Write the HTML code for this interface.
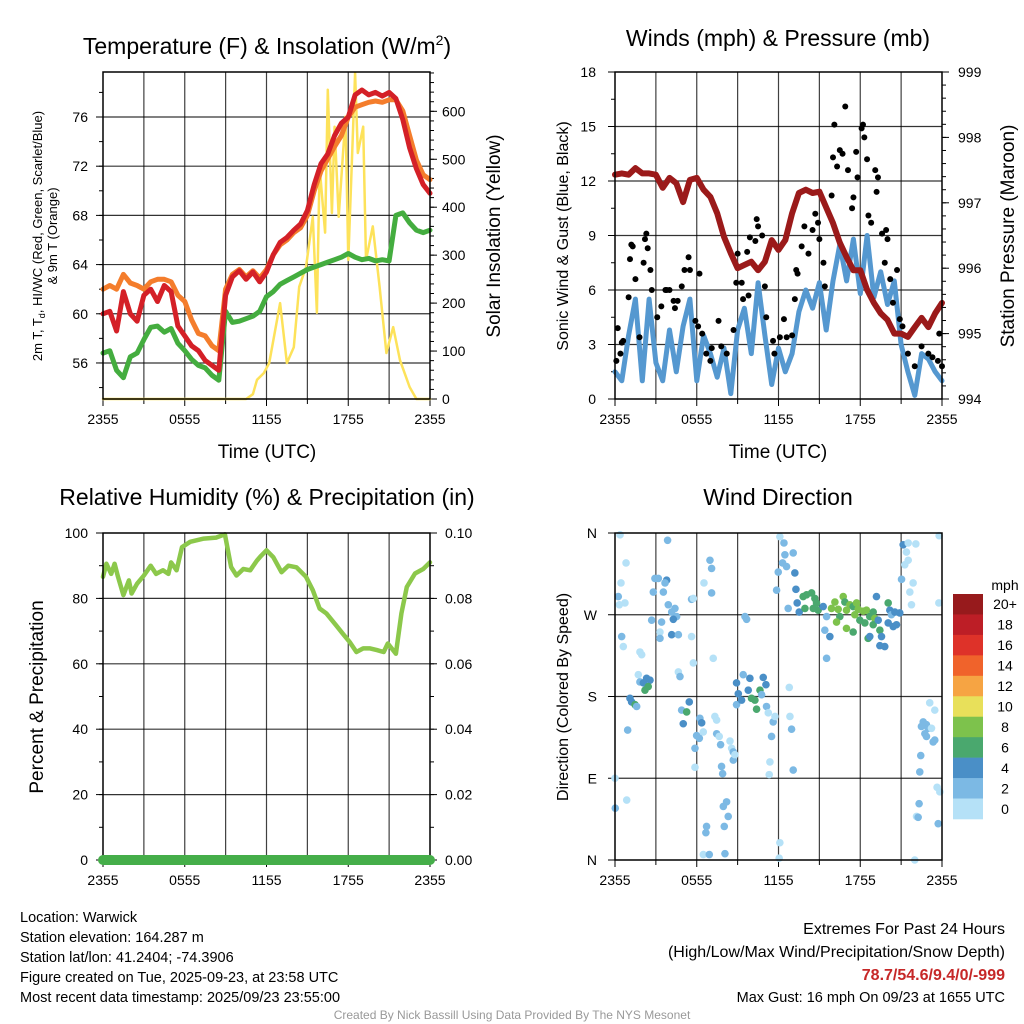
<!DOCTYPE html>
<html><head><meta charset="utf-8"><style>
html,body{margin:0;padding:0;background:#fff;}
svg{display:block;font-family:"Liberation Sans",Arial,sans-serif;}
</style></head><body>
<svg id="chart" width="1024" height="1024" viewBox="0 0 1024 1024" xmlns="http://www.w3.org/2000/svg">
<rect width="1024" height="1024" fill="#fff"/>
<g id="layer"></g>
<text x="267" y="54" font-size="23" text-anchor="middle">Temperature (F) &amp; Insolation (W/m<tspan font-size="14" dy="-9">2</tspan><tspan dy="9">)</tspan></text>
<text x="778" y="46" font-size="23" text-anchor="middle">Winds (mph) &amp; Pressure (mb)</text>
<text x="267" y="505" font-size="23" text-anchor="middle">Relative Humidity (%) &amp; Precipitation (in)</text>
<text x="778" y="505" font-size="23" text-anchor="middle">Wind Direction</text>
<text x="267" y="458" font-size="19" text-anchor="middle">Time (UTC)</text>
<text x="778" y="458" font-size="19" text-anchor="middle">Time (UTC)</text>
<text transform="translate(42,236) rotate(-90)" font-size="13" text-anchor="middle">2m T, T<tspan font-size="9" dy="3">d</tspan><tspan dy="-3">, HI/WC (Red, Green, Scarlet/Blue)</tspan></text>
<text transform="translate(57,236) rotate(-90)" font-size="13" text-anchor="middle">&amp; 9m T (Orange)</text>
<text transform="translate(500,236) rotate(-90)" font-size="19" text-anchor="middle">Solar Insolation (Yellow)</text>
<text transform="translate(568,236) rotate(-90)" font-size="16" text-anchor="middle">Sonic Wind &amp; Gust (Blue, Black)</text>
<text transform="translate(1014,236) rotate(-90)" font-size="19" text-anchor="middle">Station Pressure (Maroon)</text>
<text transform="translate(43,697) rotate(-90)" font-size="19" text-anchor="middle">Percent &amp; Precipitation</text>
<text transform="translate(568,697) rotate(-90)" font-size="16" text-anchor="middle">Direction (Colored By Speed)</text>
<g font-size="14.5">
<text x="20" y="922">Location: Warwick</text>
<text x="20" y="942">Station elevation: 164.287 m</text>
<text x="20" y="962">Station lat/lon: 41.2404; -74.3906</text>
<text x="20" y="982">Figure created on Tue, 2025-09-23, at 23:58 UTC</text>
<text x="20" y="1002">Most recent data timestamp: 2025/09/23 23:55:00</text>
</g>
<g text-anchor="end">
<text x="1005" y="934" font-size="16">Extremes For Past 24 Hours</text>
<text x="1005" y="957" font-size="16">(High/Low/Max Wind/Precipitation/Snow Depth)</text>
<text x="1005" y="980" font-size="16" font-weight="bold" fill="#c62828">78.7/54.6/9.4/0/-999</text>
<text x="1005" y="1002" font-size="14.5">Max Gust: 16 mph On 09/23 at 1655 UTC</text>
</g>
<text x="512" y="1019" font-size="12" fill="#999" text-anchor="middle">Created By Nick Bassill Using Data Provided By The NYS Mesonet</text>
</svg>
<script>
const halfHours = Array.from({length:49},(_, i)=>i/2);
const tempRed = [60.0,60.2,58.6,61.8,60.0,59.4,61.5,62.0,61.0,62.3,61.8,59.0,58.2,57.4,57.0,56.2,55.8,55.4,61.5,63.0,63.5,62.8,63.4,62.6,63.4,64.8,65.8,66.2,66.8,67.3,68.4,70.5,72.2,73.0,74.5,75.5,76.0,77.8,78.2,77.8,78.0,77.7,78.0,77.5,75.8,73.5,71.8,70.5,69.8];
const tempOrange = [62.0,62.3,62.0,63.2,62.5,62.3,62.0,62.6,62.8,62.8,62.6,61.5,61.0,59.5,58.4,58.2,57.4,57.0,62.0,63.2,63.6,63.0,63.5,62.9,63.6,64.8,65.6,66.0,66.6,67.0,68.0,70.0,71.6,72.6,73.6,74.5,76.0,76.8,77.0,77.2,77.3,77.2,77.4,77.4,76.5,74.5,72.5,71.3,70.9];
const dewGreen = [56.8,57.0,55.4,54.8,56.5,56.8,57.9,58.9,59.0,58.5,58.8,57.6,57.0,56.3,55.8,55.6,55.0,54.6,60.2,59.3,59.4,59.6,59.8,60.2,61.4,61.8,62.4,62.7,63.0,63.3,63.6,63.8,64.0,64.2,64.4,64.6,64.9,64.6,64.4,64.5,64.3,64.4,64.3,68.0,68.2,67.4,66.8,66.6,66.8];
const solarTimes = [0,10.5,11.0,11.3,11.8,12.2,13.0,13.5,14.0,14.4,14.9,15.4,15.7,15.9,16.3,16.5,16.8,17.0,17.3,17.8,18.0,18.5,18.7,19.1,19.3,19.8,20.3,20.8,21.3,21.8,22.5,23.0,24];
const solarVals = [0,0,10,40,54,75,200,75,108,234,275,380,180,484,347,645,388,568,380,589,290,680,513,568,290,360,234,96,150,81,25,0,0];
const windSpeed = [1.5,1.0,3.5,5.5,1.0,5.5,2.0,1.0,3.8,1.5,4.0,5.5,1.0,3.5,2.5,1.2,2.8,0.3,3.8,5.0,2.5,6.4,3.5,0.8,2.8,1.5,2.5,4.8,6.0,5.0,6.4,3.8,6.5,8.5,6.5,8.8,5.8,9.0,5.6,7.0,5.2,6.5,3.0,1.5,0.2,2.5,2.2,1.5,1.0];
const pressure = [997.43,997.45,997.43,997.53,997.45,997.45,997.43,997.23,997.38,997.30,997.01,997.35,997.38,997.20,997.09,996.84,996.48,996.23,996.00,996.05,996.10,995.97,996.10,996.43,996.28,996.43,996.84,997.15,997.20,997.15,997.17,996.93,996.69,996.39,996.17,995.97,995.97,995.67,995.47,995.31,995.21,995.00,995.00,994.95,995.10,995.24,995.10,995.31,995.47];
const gustTimes = [0.1,0.2,0.5,0.4,0.6,1.0,1.1,1.2,1.3,1.5,1.8,2.1,2.2,2.3,2.4,2.6,2.7,3.1,3.4,3.7,3.8,4.0,4.3,4.4,4.6,4.9,5.1,5.4,5.5,5.9,6.1,6.2,6.4,6.7,7.0,7.1,7.6,7.8,8.2,8.7,8.9,9.0,9.3,9.4,9.7,9.8,9.9,10.3,10.4,10.5,10.8,11.0,11.1,11.6,11.7,12.1,12.4,12.6,13.0,13.2,13.3,13.4,13.7,13.9,14.2,14.5,14.7,14.9,15.0,15.3,15.4,15.9,16.0,16.1,16.3,16.5,16.7,16.9,17.1,17.4,17.5,17.7,17.8,18.1,18.2,18.3,18.5,18.6,18.8,19.1,19.2,19.3,19.6,19.8,19.9,20.0,20.2,20.4,20.7,20.9,21.1,21.5,22.0,22.5,23.0,23.3,23.7,23.8,24.0];
const gustVals = [2.1,3.9,3.1,2.5,3.2,5.6,7.7,8.5,8.4,6.6,3.4,7.5,8.8,9.1,8.3,7.1,6.0,4.5,5.1,6.0,6.0,6.0,5.4,5.0,5.4,6.2,7.1,7.8,7.1,4.3,4.0,6.9,3.6,2.5,2.1,2.8,4.3,2.9,2.5,3.8,6.4,8.0,6.4,5.5,8.1,5.7,8.9,8.7,9.9,9.5,9.0,6.2,4.5,3.2,2.5,3.4,4.4,3.4,3.5,5.5,7.1,6.9,8.4,9.5,8.0,9.3,10.2,9.7,8.8,7.5,6.2,11.2,13.3,15.1,12.8,13.7,13.5,16.1,12.6,10.5,11.1,13.6,12.2,14.9,15.1,14.4,13.2,10.1,9.7,12.6,11.4,12.2,9.1,7.5,9.3,8.8,6.6,5.3,7.1,4.4,4.0,2.5,1.8,2.9,2.5,2.3,2.1,3.6,1.8];
const rhTimes = [0,0.25,0.6,0.85,1.1,1.5,1.9,2.1,2.5,3.0,3.5,3.9,4.4,4.8,5.0,5.4,5.8,6.4,7.4,8.3,8.95,9.4,9.8,10.3,10.8,11.3,11.6,12.0,12.5,13.1,13.6,14.2,14.9,15.4,15.9,16.4,17.1,17.6,18.1,18.6,19.1,19.6,20.1,20.6,20.9,21.5,21.9,22.3,22.9,23.5,24.0];
const rhVals = [86.6,90.6,87.5,90.6,86.6,81.0,85.5,81.5,84.5,87.0,90.0,87.5,88.6,87.5,91.0,88.6,95.7,97.3,98.3,98.6,99.6,89.6,87.0,89.0,88.6,91.6,93.0,94.7,92.6,88.0,90.0,89.5,86.6,82.5,76.9,75.4,71.8,69.2,66.7,63.6,64.7,64.7,64.2,63.6,66.2,63.1,75.4,83.5,87.6,89.0,91.0];
const precipTimes = [0,24];
const precipVals = [0,0];
const dirTimes = [
0.37,0.24,0.32,0.73,0.81,0.44,0.49,0.61,1.83,1.96,
1.71,1.83,2.08,2.32,2.57,2.20,2.44,1.10,1.22,1.47,
1.59,0.93,0,0.02,0.86,2.93,3.18,3.79,3.67,2.81,
3.55,3.91,4.40,4.16,4.52,4.28,3.42,2.69,3.30,4.16,
4.65,3.30,5.62,5.62,5.75,5.75,4.65,4.77,3.86,5.45,
4.89,5.01,5.26,6.23,6.36,6.48,5.99,6.19,5.87,5.87,
6.97,7.09,7.09,6.53,7.21,7.33,7.46,7.46,7.65,7.75,
8.44,8.56,8.68,8.68,8.80,7.82,7.90,7.95,8.19,8.31,
6.72,6.67,6.48,6.92,8.07,8.02,9.54,9.66,8.92,9.05,
8.92,9.29,9.41,9.90,9.78,10.02,10.27,10.39,10.64,10.88,
11.08,10.76,11.12,11.25,11.61,11.74,11.49,11.37,11.32,12.79,
12.84,12.96,13.08,12.10,12.05,12.10,12.40,12.47,12.30,12.59,
11.98,11.86,13.08,13.20,13.28,13.37,13.52,12.71,13.81,14.06,
14.43,14.67,14.79,14.91,14.55,13.94,15.28,15.53,15.40,15.77,
15.53,15.89,16.14,16.38,16.50,16.75,16.87,16.99,17.24,17.48,
17.60,17.73,17.85,16.99,16.26,17.48,17.97,18.22,18.34,18.46,
18.58,18.70,18.95,19.07,18.95,19.19,19.32,19.44,19.56,19.80,
19.44,20.05,20.17,20.29,20.42,20.66,20.90,20.54,20.05,18.70,
21.15,21.03,21.39,21.52,22.08,21.52,21.27,21.88,21.64,21.76,
23.79,23.77,23.10,23.47,22.62,22.86,22.49,22.74,22.98,23.23,
22.86,23.35,23.47,22.44,22.37,22.32,22.13,22.25,23.64,23.84,
23.72,22.00];
const dirDeg = [
358,290,281,283,327,305,246,235,229,226,
204,196,195,200,198,187,191,178,174,171,
169,143,90,57,66,310,310,308,305,295,
295,281,277,273,268,265,262,264,251,248,
248,244,246,287,288,217,207,202,352,174,
165,150,163,156,151,141,137,134,123,102,
330,321,294,305,222,158,154,139,136,127,
131,123,119,110,116,103,95,59,64,48,
37,30,6,6,7,37,268,265,195,183,
171,176,204,200,187,178,176,166,187,201,
193,182,169,162,152,158,136,108,94,190,
158,144,99,19,2,356,349,336,327,323,
317,297,338,316,298,283,273,277,290,292,
294,288,283,275,277,277,279,268,253,246,
222,277,284,276,268,290,284,275,281,279,
270,283,276,255,262,251,264,274,261,275,
244,268,273,266,259,290,264,253,246,235,
236,283,275,270,257,259,272,273,261,246,
347,309,339,349,348,330,325,305,295,281,
357,283,173,165,152,149,147,139,145,145,
136,130,132,115,97,62,48,47,80,75,
40,0];
const dirSpeed = [
1,3,1,1,1,1,3,1,1,1,
1,3,5,5,5,7,7,5,5,7,
3,3,1,3,1,3,3,5,3,3,
3,3,3,3,3,5,3,3,1,5,
3,3,1,3,1,1,1,3,3,5,
3,5,7,3,5,1,3,3,3,1,
3,3,3,1,1,1,1,3,1,3,
1,1,3,3,1,3,3,3,3,3,
3,3,1,3,3,3,3,3,5,5,
3,5,3,5,5,7,7,7,7,5,
5,3,3,1,3,1,3,1,1,1,
1,3,3,1,1,1,3,3,3,3,
3,3,3,5,5,5,5,3,7,7,
7,7,7,7,7,7,5,3,3,5,
3,9,9,9,7,9,7,9,9,7,
9,9,9,9,9,7,7,9,7,9,
7,7,7,9,7,5,5,7,5,5,
5,7,5,3,5,5,5,5,5,5,
5,3,1,1,1,1,1,1,1,1,
1,1,1,1,3,3,3,3,3,1,
3,3,3,3,3,3,1,3,1,1,
3,1];
const speedColors = ['#b5e1f7','#7cb9e4','#4a8fc7','#4aa86e','#7dc24c','#e8e05a','#f6a443','#f0632b','#de3229','#bd1e26','#971a1c'];
const speedLabels = ['0','2','4','6','8','10','12','14','16','18','20+'];

const NS='http://www.w3.org/2000/svg';
const layer=document.getElementById('layer');
function mk(tag, attrs, parent){const e=document.createElementNS(NS,tag);for(const k in attrs)e.setAttribute(k,attrs[k]);(parent||layer).appendChild(e);return e;}
const W=327;
function xs(x0,h){return x0+h*W/24;}
function linScale(vmin,vmax,ytop,ybot){return v=>ybot-(v-vmin)/(vmax-vmin)*(ybot-ytop);}

function panelFrame(x0,y0,name){
  const g=mk('g',{});
  
  
  for(let h=3;h<24;h+=3){const l=mk('line',{x1:xs(x0,h),x2:xs(x0,h),y1:y0,y2:y0+W,stroke:'#000','stroke-width':1.2,'stroke-opacity':0.75},g);
    
    }
  const xl=['2355','0555','1155','1755','2355'];
  for(let h=0;h<=24;h+=3){mk('line',{x1:xs(x0,h),x2:xs(x0,h),y1:y0+W,y2:y0+W+(h%6==0?7:5),stroke:'#000','stroke-width':1},g);}
  for(let i=0;i<5;i++){const t=mk('text',{x:xs(x0,i*6),y:y0+W+25,'font-size':14,'text-anchor':'middle'},g);t.textContent=xl[i];
    
    }
  return g;
}
function hgrid(g,x0,y){const l=mk('line',{x1:x0,x2:x0+W,y1:y,y2:y,stroke:'#000','stroke-width':1.2,'stroke-opacity':0.8},g);
  
  }
function leftTicks(g,x0,scale,majors,minors,labels,lx){
  minors.forEach(v=>mk('line',{x1:x0,x2:x0-4,y1:scale(v),y2:scale(v),stroke:'#000'},g));
  majors.forEach((v,i)=>{mk('line',{x1:x0,x2:x0-7,y1:scale(v),y2:scale(v),stroke:'#000'},g);
    const t=mk('text',{x:lx,y:scale(v)+5,'font-size':14,'text-anchor':'end'},g);t.textContent=labels[i];
    
    });
}
function rightTicks(g,x1,scale,majors,minors,labels,lx){
  minors.forEach(v=>mk('line',{x1:x1,x2:x1+4,y1:scale(v),y2:scale(v),stroke:'#000'},g));
  majors.forEach((v,i)=>{mk('line',{x1:x1,x2:x1+7,y1:scale(v),y2:scale(v),stroke:'#000'},g);
    const t=mk('text',{x:lx,y:scale(v)+5,'font-size':14,'text-anchor':'start'},g);t.textContent=labels[i];
    
    });
}
function border(g,x0,y0){const r=mk('rect',{x:x0,y:y0,width:W,height:W,fill:'none',stroke:'#000','stroke-width':1.5},g);
  
  }
function line(g,times,vals,x0,scale,color,w,name){
  const d=times.map((t,i)=>(i?'L':'M')+xs(x0,t).toFixed(1)+','+scale(vals[i]).toFixed(1)).join('');
  const p=mk('path',{d:d,fill:'none',stroke:color,'stroke-width':w,'stroke-linejoin':'round','stroke-linecap':'round'},g);
  
  
  return p;
}
function range(a,b,s){const r=[];for(let v=a;v<=b+1e-9;v+=s)r.push(+v.toFixed(4));return r;}

(function(){
  const x0=103,y0=72;
  const g=panelFrame(x0,y0,'temperature-panel');
  const ty=linScale(53.07,79.66,y0,y0+W), sy=linScale(0,682,y0,y0+W);
  [56,60,64,68,72,76].forEach(v=>hgrid(g,x0,ty(v)));
  leftTicks(g,x0,ty,[56,60,64,68,72,76],range(54,78,2),['56','60','64','68','72','76'],88);
  rightTicks(g,x0+W,sy,range(0,600,100),range(0,680,20),['0','100','200','300','400','500','600'],442);
  line(g,solarTimes,solarVals,x0,sy,'#fde25a',2.5,'solar-insolation-line');
  line(g,halfHours,dewGreen,x0,ty,'#44ad3f',5,'dewpoint-line');
  line(g,halfHours,tempOrange,x0,ty,'#f47d2c',5,'9m-temperature-line');
  line(g,halfHours,tempRed,x0,ty,'#d42027',5,'2m-temperature-line');
  border(g,x0,y0);
})();

(function(){
  const x0=615,y0=72;
  const g=panelFrame(x0,y0,'winds-panel');
  const wy=linScale(0,18,y0,y0+W), py=linScale(994,999,y0,y0+W);
  [3,6,9,12,15].forEach(v=>hgrid(g,x0,wy(v)));
  leftTicks(g,x0,wy,range(0,18,3),range(0,18,1.5),['0','3','6','9','12','15','18'],596);
  rightTicks(g,x0+W,py,range(994,999,1),range(994,999,0.2),['994','995','996','997','998','999'],958);
  line(g,halfHours,windSpeed,x0,wy,'#5598d0',5,'sonic-wind-line');
  gustTimes.forEach((t,i)=>{const c=mk('circle',{cx:xs(x0,t),cy:wy(gustVals[i]),r:3,fill:'#000'},g);
    
    });
  line(g,halfHours,pressure,x0,py,'#9b1a1a',6,'pressure-line');
  border(g,x0,y0);
})();

(function(){
  const x0=103,y0=533;
  const g=panelFrame(x0,y0,'humidity-panel');
  const ry=linScale(0,100,y0,y0+W), pry=linScale(0,0.1,y0,y0+W);
  [20,40,60,80].forEach(v=>hgrid(g,x0,ry(v)));
  leftTicks(g,x0,ry,range(0,100,20),range(0,100,10),['0','20','40','60','80','100'],88);
  rightTicks(g,x0+W,pry,range(0,0.1,0.02),range(0,0.1,0.01),['0.00','0.02','0.04','0.06','0.08','0.10'],445);
  line(g,rhTimes,rhVals,x0,ry,'#8cc84b',4.5,'relative-humidity-line');
  border(g,x0,y0);
  line(g,precipTimes,precipVals,x0,pry,'#45ae49',10,'precipitation-line');
})();

(function(){
  const x0=615,y0=533;
  const g=panelFrame(x0,y0,'wind-direction-panel');
  const dy=linScale(0,360,y0,y0+W);
  [90,180,270].forEach(v=>hgrid(g,x0,dy(v)));
  leftTicks(g,x0,dy,[0,90,180,270,360],[],['N','E','S','W','N'],597);
  dirTimes.forEach((t,i)=>{const col=speedColors[Math.min(10,Math.floor(dirSpeed[i]/2))];
    const c=mk('circle',{cx:xs(x0,t),cy:dy(dirDeg[i]),r:3.8,fill:col},g);
    
    });
  border(g,x0,y0);
  const cb=mk('g',{});
  
  
  const t=mk('text',{x:1005,y:590,'font-size':14,'text-anchor':'middle'},cb);t.textContent='mph';
  const top=594,bh=(819-594)/11;
  for(let i=0;i<11;i++){const k=10-i;
    const r=mk('rect',{x:953,y:top+i*bh,width:30,height:bh+0.3,fill:speedColors[k]},cb);
    
    
    const l=mk('text',{x:1005,y:top+i*bh+bh/2+5,'font-size':14,'text-anchor':'middle'},cb);l.textContent=speedLabels[k];
    
    }
})();
</script>
</body></html>
